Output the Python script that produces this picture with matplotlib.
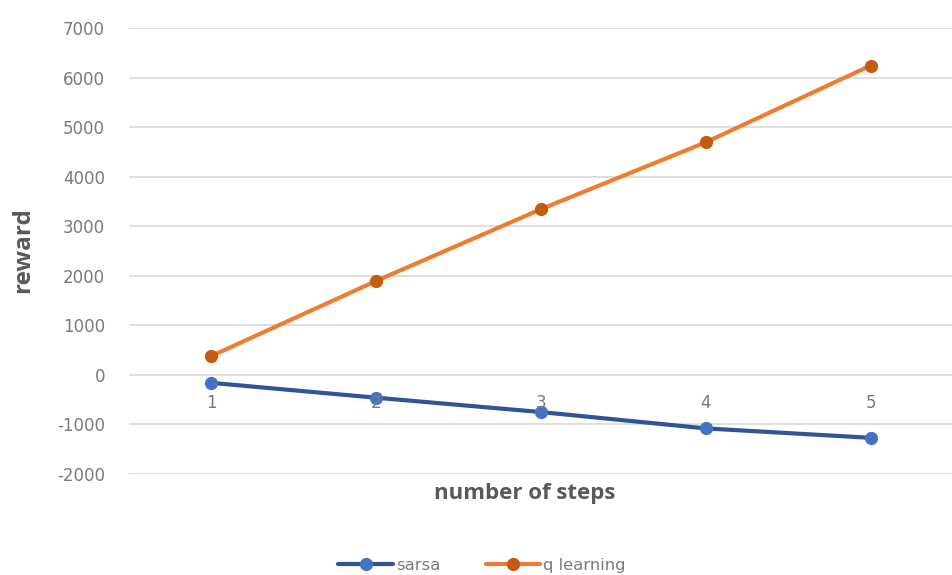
import matplotlib
matplotlib.use("Agg")
import matplotlib.pyplot as plt

steps = [1, 2, 3, 4, 5]
step_labels = ["1", "2", "3", "4", "5"]
sarsa = [-160, -460, -750, -1080, -1270]
q_learning = [380, 1895, 3345, 4695, 6245]
y_ticks = [-2000, -1000, 0, 1000, 2000, 3000, 4000, 5000, 6000, 7000]

plt.rcParams["font.family"] = ["Open Sans", "DejaVu Sans"]
grey_text = "#595959"
tick_text = "#7a7a7a"
grid_col = "#d9d9d9"
tick_font = "DejaVu Sans"

fig = plt.figure(figsize=(9.53, 5.75), dpi=100)
ax = fig.add_axes([0.135, 0.1757, 0.865, 0.7753])

ax.set_ylim(-2000, 7000)
ax.set_xlim(0.5, 5.5)
ax.set_yticks(y_ticks)
ax.set_yticklabels([str(v) for v in y_ticks], family=tick_font)
ax.set_xticks([])
ax.tick_params(axis="y", length=0, pad=17, labelsize=12, labelcolor=tick_text)
ax.yaxis.grid(True, color=grid_col, linewidth=1.2)
ax.set_axisbelow(True)
for s in ax.spines.values():
    s.set_visible(False)

ax.plot(steps, sarsa, color="#2F5597", linewidth=3, marker="o",
        markersize=8.5, markerfacecolor="#4472C4", markeredgecolor="#4472C4",
        label="sarsa", solid_capstyle="round", zorder=3)
ax.plot(steps, q_learning, color="#ED7D31", linewidth=3, marker="o",
        markersize=8.5, markerfacecolor="#C55A11", markeredgecolor="#C55A11",
        label="q learning", solid_capstyle="round", zorder=3)

# category labels sit just under the zero line
for x, lab in zip(steps, step_labels):
    ax.annotate(lab, xy=(x, 0), xytext=(0, -14), textcoords="offset points",
                ha="center", va="top", fontsize=12, color=tick_text,
                family=tick_font)

fig.text(0.024, 0.565, "reward", rotation=90, ha="center", va="center",
         fontsize=17.5, fontweight="bold", color=grey_text)
fig.text(0.551, 0.141, "number of steps", ha="center", va="center",
         fontsize=16, fontweight="bold", color=grey_text)

leg = fig.legend(loc="center", bbox_to_anchor=(0.506, 0.017), ncol=2,
                 frameon=False, prop={"family": tick_font, "size": 11.8},
                 handlelength=3.3, handletextpad=0.2, columnspacing=2.8)
for t in leg.get_texts():
    t.set_color(tick_text)

fig.savefig("out.png", dpi=100, facecolor="white")
